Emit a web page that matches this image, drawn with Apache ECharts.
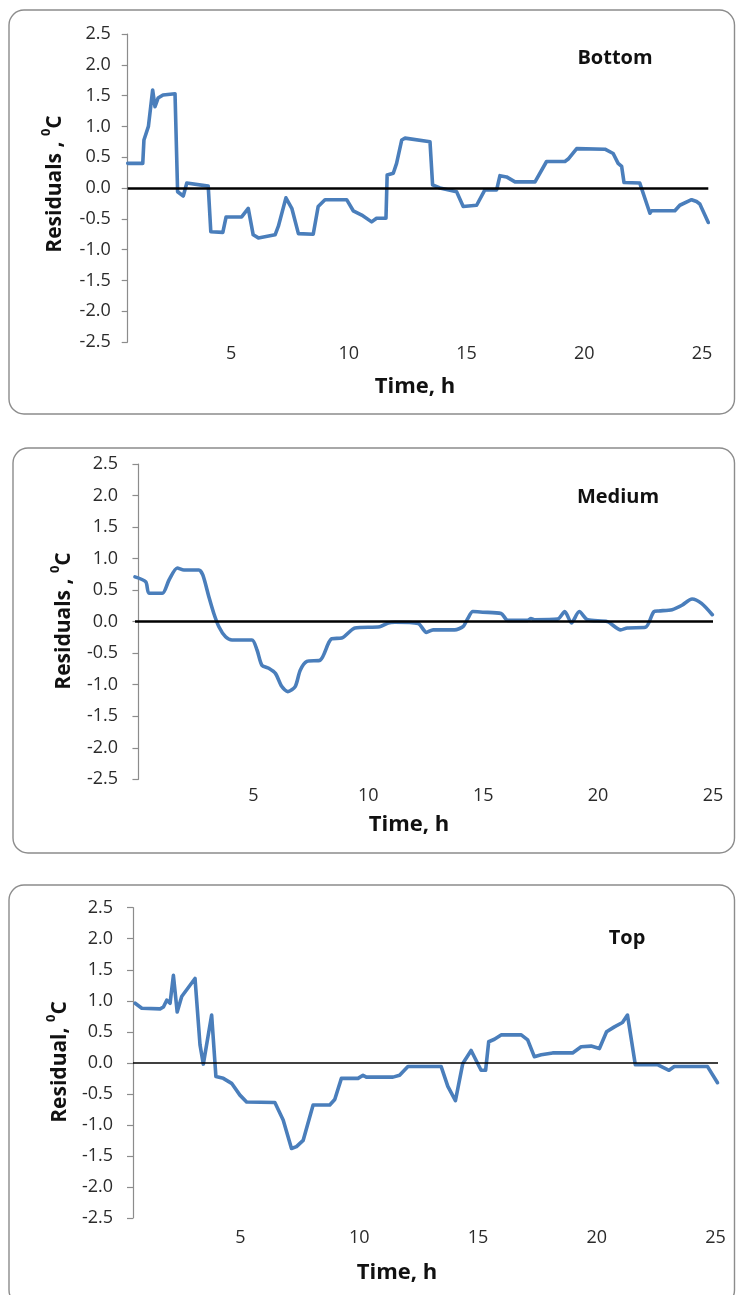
<!DOCTYPE html>
<html>
<head>
<meta charset="utf-8">
<title>Residuals vs time</title>
<script src="https://cdn.jsdelivr.net/npm/echarts@6.0.0/dist/echarts.min.js"></script>
<style>
  html, body { margin: 0; padding: 0; background: #ffffff; }
  #chart { width: 736px; height: 1295px; }
</style>
</head>
<body>
<div id="chart"></div>
<script>
// Residuals (°C) against time (h) at three heights
const bottomTime = [0.61,1.25,1.30,1.49,1.67,1.77,1.90,2.11,2.62,2.73,2.97,3.12,4.03,4.14,4.65,4.79,5.45,5.73,5.94,6.16,6.87,7.01,7.33,7.58,7.86,8.49,8.70,8.99,9.91,10.19,10.55,10.97,11.18,11.58,11.63,11.89,12.03,12.25,12.39,13.45,13.56,13.87,14.58,14.86,15.43,15.78,16.28,16.42,16.70,17.06,17.91,18.40,19.18,19.32,19.68,20.88,21.23,21.44,21.59,21.69,22.36,22.79,22.86,23.85,24.06,24.56,24.77,24.91,25.27];
const bottomResid = [0.40,0.40,0.78,1.00,1.59,1.32,1.46,1.51,1.53,-0.06,-0.13,0.08,0.03,-0.71,-0.72,-0.47,-0.47,-0.33,-0.76,-0.81,-0.76,-0.62,-0.16,-0.33,-0.74,-0.75,-0.30,-0.19,-0.19,-0.37,-0.44,-0.55,-0.49,-0.49,0.21,0.24,0.40,0.78,0.81,0.75,0.05,0.00,-0.06,-0.30,-0.28,-0.03,-0.03,0.20,0.18,0.10,0.10,0.43,0.43,0.47,0.64,0.63,0.56,0.40,0.35,0.09,0.08,-0.41,-0.37,-0.37,-0.28,-0.19,-0.22,-0.26,-0.56];

const mediumTime = [-0.15,0.32,0.46,1.04,1.33,1.69,1.98,2.63,2.80,3.06,3.28,3.50,3.79,4.07,4.94,5.16,5.37,5.67,5.96,6.24,6.50,6.82,7.04,7.33,7.91,8.27,8.41,8.84,9.42,10.50,10.87,11.16,12.17,12.53,12.82,13.76,14.12,14.33,14.55,14.98,15.78,16.07,16.94,17.08,17.23,18.24,18.55,18.84,19.18,19.54,20.40,20.98,21.27,22.06,22.43,22.64,23.22,23.65,24.09,24.50,24.97];
const mediumResid = [0.71,0.63,0.45,0.45,0.66,0.85,0.82,0.82,0.74,0.40,0.13,-0.08,-0.24,-0.29,-0.29,-0.45,-0.69,-0.74,-0.82,-1.03,-1.11,-1.03,-0.77,-0.63,-0.61,-0.34,-0.27,-0.26,-0.10,-0.08,-0.02,-0.01,-0.03,-0.17,-0.13,-0.13,-0.08,0.05,0.16,0.15,0.13,0.02,0.02,0.05,0.03,0.04,0.16,-0.02,0.16,0.03,0.00,-0.13,-0.10,-0.09,0.16,0.17,0.19,0.26,0.36,0.29,0.11];

const topTime = [0.57,0.85,1.62,1.76,1.90,2.04,2.18,2.34,2.53,3.09,3.30,3.44,3.79,3.97,4.28,4.63,4.98,5.26,6.45,6.80,7.15,7.36,7.64,8.06,8.76,8.97,9.25,9.95,10.16,10.30,11.42,11.70,12.05,13.45,13.73,14.05,14.36,14.71,15.13,15.32,15.45,15.69,15.97,16.82,17.09,17.37,17.66,18.14,18.98,19.34,19.76,20.11,20.41,20.74,21.08,21.29,21.62,22.55,23.04,23.26,24.66,25.08];
const topResid = [0.96,0.88,0.87,0.90,1.01,0.96,1.41,0.82,1.07,1.36,0.29,-0.02,0.77,-0.22,-0.25,-0.33,-0.52,-0.63,-0.64,-0.92,-1.38,-1.35,-1.25,-0.68,-0.68,-0.59,-0.25,-0.25,-0.20,-0.23,-0.23,-0.20,-0.06,-0.06,-0.38,-0.61,-0.01,0.20,-0.12,-0.12,0.34,0.38,0.45,0.45,0.37,0.10,0.13,0.16,0.16,0.26,0.27,0.23,0.50,0.58,0.65,0.77,-0.03,-0.03,-0.12,-0.06,-0.06,-0.32];

const timeTicks = [5, 10, 15, 20, 25];
const panelNames = ['Bottom', 'Medium', 'Top'];
const yTitles = ['Residuals , ', 'Residuals , ', 'Residual, '];
const xTitle = 'Time, h';

const FONT = "'Open Sans', 'Noto Sans', sans-serif";
const LINE_BLUE = '#4a7ebb';

// layout of the three stacked panels (pixels)
const panels = [
  { grid: { left: 127.7, top: 34,    width: 580.6, height: 308 },   xMin: 0.61,  xMax: 25.27, labelGap: 3,
    box: [9, 10, 725.5, 404],  name: [615, 58],  xName: [415, 387],  yName: [53, 184],  zeroWidth: 2.6 },
  { grid: { left: 135,   top: 464,   width: 578,   height: 315.3 }, xMin: -0.15, xMax: 25.0,  labelGap: 8,
    box: [13, 448, 721.5, 405], name: [618, 497], xName: [409, 825],  yName: [62, 621],  zeroWidth: 2.6 },
  { grid: { left: 133,   top: 907.7, width: 585,   height: 310.3 }, xMin: 0.48,  xMax: 25.1,  labelGap: 11,
    box: [9, 885, 725.5, 420], name: [627, 938], xName: [397, 1273], yName: [58, 1062], zeroWidth: 1.6 }
];

const seriesData = [
  bottomTime.map((t, i) => [t, bottomResid[i]]),
  mediumTime.map((t, i) => [t, mediumResid[i]]),
  topTime.map((t, i) => [t, topResid[i]])
];

const chart = echarts.init(document.getElementById('chart'), null, { renderer: 'canvas' });

const grids = [], xAxes = [], yAxes = [], series = [], graphics = [];

panels.forEach((p, k) => {
  grids.push(Object.assign({ containLabel: false, outerBoundsMode: 'none' }, p.grid));

  xAxes.push({
    type: 'value', gridIndex: k, min: p.xMin, max: p.xMax,
    axisLine: { show: false }, axisTick: { show: false }, splitLine: { show: false },
    axisLabel: {
      customValues: timeTicks, margin: p.labelGap,
      fontFamily: FONT, fontSize: 18, color: '#2b2b2b'
    }
  });

  yAxes.push({
    type: 'value', gridIndex: k, min: -2.5, max: 2.5, interval: 0.5,
    axisLine: { show: true, lineStyle: { color: '#8c8c8c', width: 1.2 } },
    axisTick: { show: true, inside: false, length: 6, lineStyle: { color: '#8c8c8c', width: 1.2 } },
    splitLine: { show: false },
    axisLabel: {
      margin: k === 2 ? 20 : 17,
      fontFamily: FONT, fontSize: 18, color: '#2b2b2b',
      formatter: v => v.toFixed(1)
    }
  });

  series.push({
    type: 'line', xAxisIndex: k, yAxisIndex: k,
    data: seriesData[k], showSymbol: false, smooth: k === 1 ? 0.25 : false,
    lineStyle: { color: LINE_BLUE, width: 3.6, join: 'round', cap: 'round' },
    itemStyle: { color: LINE_BLUE },
    animation: false, z: 3,
    markLine: {
      silent: true, symbol: ['none', 'none'], animation: false,
      label: { show: false },
      lineStyle: { color: '#000', width: p.zeroWidth, type: 'solid' },
      data: [{ yAxis: 0 }]
    }
  });

  // rounded frame around each panel
  graphics.push({
    type: 'rect', silent: true, z: 0,
    shape: { x: p.box[0], y: p.box[1], width: p.box[2], height: p.box[3], r: 15 },
    style: { fill: 'none', stroke: '#8c8c8c', lineWidth: 1.4 }
  });
  // panel label
  graphics.push({
    type: 'text', silent: true, x: p.name[0], y: p.name[1],
    style: { text: panelNames[k], font: `bold 20px ${FONT}`, fill: '#111', align: 'center', verticalAlign: 'middle' }
  });
  // x-axis title
  graphics.push({
    type: 'text', silent: true, x: p.xName[0], y: p.xName[1],
    style: { text: xTitle, font: `bold 22px ${FONT}`, fill: '#111', align: 'center', verticalAlign: 'middle' }
  });
  // y-axis title with superscript degree zero
  graphics.push({
    type: 'text', silent: true, x: p.yName[0], y: p.yName[1], rotation: Math.PI / 2,
    style: {
      text: `{n|${yTitles[k]}}{s|0}{n|C}`,
      align: 'center', verticalAlign: 'middle',
      rich: {
        n: { font: `bold 21px ${FONT}`, fill: '#111', lineHeight: 26, verticalAlign: 'bottom' },
        s: { font: `bold 13px ${FONT}`, fill: '#111', lineHeight: 26, verticalAlign: 'top' }
      }
    }
  });
});

chart.setOption({
  backgroundColor: '#ffffff',
  animation: false,
  grid: grids,
  xAxis: xAxes,
  yAxis: yAxes,
  series: series,
  graphic: { elements: graphics }
});
</script>
</body>
</html>
